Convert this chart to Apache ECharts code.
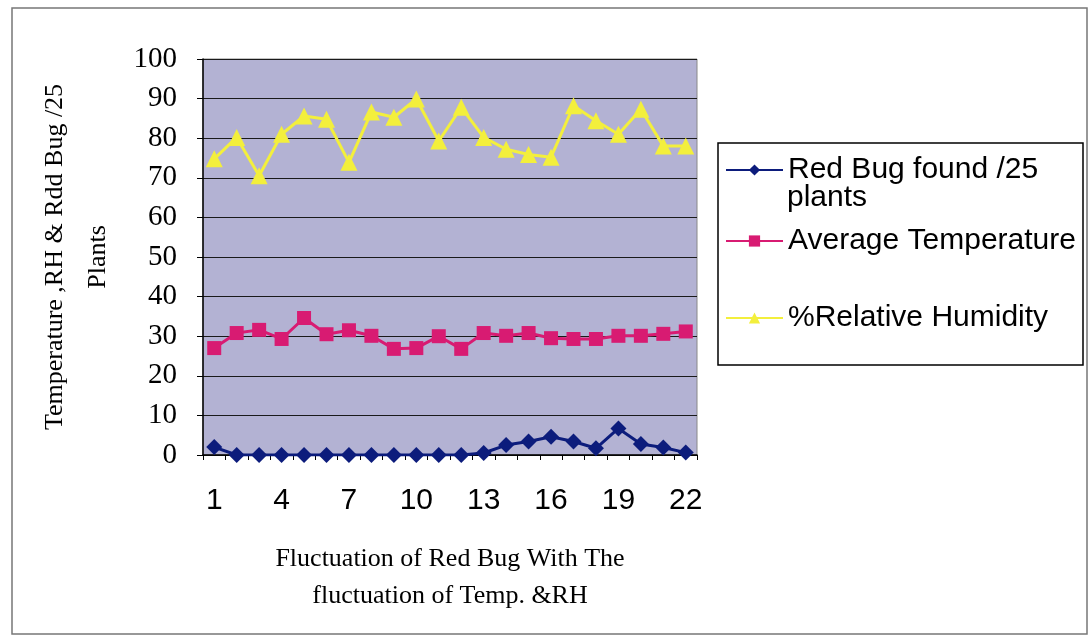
<!DOCTYPE html>
<html>
<head>
<meta charset="utf-8">
<script src="https://cdn.jsdelivr.net/npm/echarts@6/dist/echarts.min.js"></script>
<style>
html,body{margin:0;padding:0;background:#fff;}
#chart{width:1091px;height:638px;}
</style>
</head>
<body>
<div id="chart"></div>
<script>
const categories = ['1','2','3','4','5','6','7','8','9','10','11','12','13','14','15','16','17','18','19','20','21','22'];
const redBug = [2, 0, 0, 0, 0, 0, 0, 0, 0, 0, 0, 0, 0.5, 2.5, 3.4, 4.6, 3.4, 1.7, 6.7, 2.8, 1.9, 0.6];
const avgTemp = [27, 30.8, 31.6, 29.3, 34.6, 30.5, 31.5, 30.1, 26.8, 27, 30, 26.8, 30.8, 30.1, 30.8, 29.5, 29.3, 29.3, 30.1, 30.1, 30.6, 31.2];
const humidity = [74.8, 80.2, 70.5, 81, 85.6, 84.8, 73.9, 86.6, 85.3, 89.9, 79.3, 87.8, 80.2, 77.2, 75.9, 75.2, 88.2, 84.4, 81, 87.3, 78, 78];
const yTicks = {min: 0, max: 100, interval: 10};
const names = ['Red Bug found /25 plants', 'Average Temperature', '%Relative Humidity'];

const chart = echarts.init(document.getElementById('chart'), null, {renderer: 'canvas'});
const legendText = {fontFamily: 'Liberation Sans, Arial, sans-serif', fontSize: 30, color: '#000'};
const legendBase = {left: 725, padding: 0, itemWidth: 57, itemHeight: 14, itemGap: 4, textStyle: legendText, z: 5};
const option = {
  animation: false,
  backgroundColor: '#fff',
  graphic: [
    {type: 'rect', shape: {x: 12, y: 8, width: 1075, height: 626}, style: {fill: 'none', stroke: '#777', lineWidth: 1.5}, z: -1},
    {type: 'rect', shape: {x: 718, y: 143, width: 365, height: 222}, style: {fill: '#fff', stroke: '#000', lineWidth: 1.5}, z: 0},
    {type: 'text', left: 787, top: 183, style: {text: 'plants', font: '30px "Liberation Sans", Arial, sans-serif', fill: '#000'}, z: 6}
  ],
  grid: {left: 203, right: 394, top: 59, bottom: 183, show: true, backgroundColor: '#b3b2d3', borderColor: '#888', borderWidth: 1},
  legend: [
    Object.assign({data: [names[0]], top: 155, formatter: () => 'Red Bug found /25'}, legendBase),
    Object.assign({data: [names[1]], top: 226}, legendBase),
    Object.assign({data: [names[2]], top: 303}, legendBase)
  ],
  xAxis: {
    type: 'category', data: categories, boundaryGap: true,
    axisLine: {lineStyle: {color: '#000', width: 1.5}},
    axisTick: {show: true, interval: 0, length: 5, lineStyle: {color: '#000'}},
    axisLabel: {interval: 2, margin: 31, fontFamily: 'Liberation Sans, Arial, sans-serif', fontSize: 30, color: '#000'},
    name: 'Fluctuation of Red Bug With The\nfluctuation of Temp. &RH',
    nameLocation: 'middle', nameGap: 86,
    nameTextStyle: {fontFamily: 'Liberation Serif, Times New Roman, serif', fontSize: 26, lineHeight: 37, color: '#000'}
  },
  yAxis: {
    type: 'value', min: yTicks.min, max: yTicks.max, interval: yTicks.interval,
    axisLine: {show: true, lineStyle: {color: '#000', width: 1.5}},
    axisTick: {show: true, length: 6, lineStyle: {color: '#000'}},
    splitLine: {show: true, lineStyle: {color: '#1a1a1a', width: 1.2}},
    axisLabel: {margin: 26, fontFamily: 'Liberation Serif, Times New Roman, serif', fontSize: 29, color: '#000'},
    name: 'Temperature ,RH & Rdd Bug /25\nPlants',
    nameLocation: 'middle', nameGap: 83,
    nameTextStyle: {fontFamily: 'Liberation Serif, Times New Roman, serif', fontSize: 26, lineHeight: 43, color: '#000'}
  },
  series: [
    {name: names[0], type: 'line', data: redBug, symbol: 'diamond', symbolSize: 16, showAllSymbol: true,
     itemStyle: {color: '#0c1c7c'}, lineStyle: {color: '#0c1c7c', width: 3}, z: 3},
    {name: names[1], type: 'line', data: avgTemp, symbol: 'rect', symbolSize: 14, showAllSymbol: true,
     itemStyle: {color: '#d81b72'}, lineStyle: {color: '#d81b72', width: 3}, z: 3},
    {name: names[2], type: 'line', data: humidity, symbol: 'triangle', symbolSize: 17, showAllSymbol: true,
     itemStyle: {color: '#f3ef3c'}, lineStyle: {color: '#f3ef3c', width: 3}, z: 3}
  ]
};
chart.setOption(option);
</script>
</body>
</html>
